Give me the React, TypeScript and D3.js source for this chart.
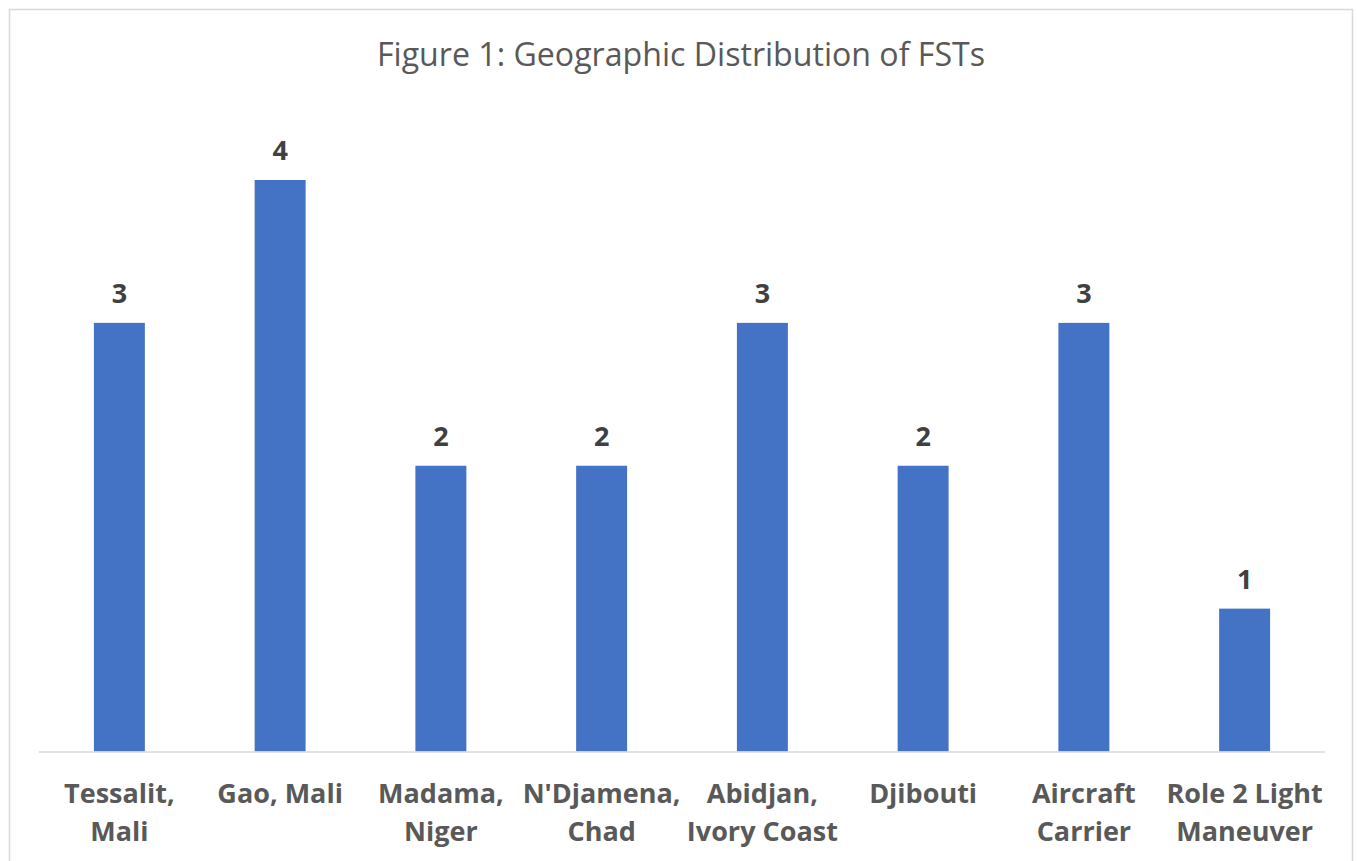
import React from "react";
import * as d3 from "d3";

const categories = [
  "Tessalit, Mali",
  "Gao, Mali",
  "Madama, Niger",
  "N'Djamena, Chad",
  "Abidjan, Ivory Coast",
  "Djibouti",
  "Aircraft Carrier",
  "Role 2 Light Maneuver",
];
const categoryLines = [
  ["Tessalit,", "Mali"],
  ["Gao, Mali"],
  ["Madama,", "Niger"],
  ["N'Djamena,", "Chad"],
  ["Abidjan,", "Ivory Coast"],
  ["Djibouti"],
  ["Aircraft", "Carrier"],
  ["Role 2 Light", "Maneuver"],
];
const values = [3, 4, 2, 2, 3, 2, 3, 1];
const title = "Figure 1: Geographic Distribution of FSTs";

const W = 1357;
const H = 861;
const FONT = "'Open Sans', 'Segoe UI', sans-serif";

export default function App() {
  const x = d3
    .scaleBand<string>()
    .domain(categories)
    .range([39, 1325])
    .paddingInner(0.683)
    .paddingOuter(0.3415);
  const y = d3.scaleLinear().domain([0, 4]).range([751.5, 180]);

  return (
    <svg
      width={W}
      height={H}
      style={{ position: "absolute", left: 0, top: 0, background: "#fff" }}
      fontFamily={FONT}
    >
      <rect x={0} y={0} width={W} height={H} fill="#fff" />
      <rect
        x={9.5}
        y={9.5}
        width={1343}
        height={880}
        fill="none"
        stroke="#d9d9d9"
        strokeWidth={1.5}
      />
      <text
        x={681}
        y={66}
        textAnchor="middle"
        fontSize={32}
        fill="#595959"
        textLength={608}
        lengthAdjust="spacingAndGlyphs"
      >
        {title}
      </text>
      {categories.map((c, i) => (
        <rect
          key={c}
          x={x(c)}
          y={y(values[i])}
          width={x.bandwidth()}
          height={y(0) - y(values[i])}
          fill="#4472C4"
        />
      ))}
      <line
        x1={39}
        x2={1325}
        y1={752}
        y2={752}
        stroke="#d9d9d9"
        strokeWidth={1.5}
      />
      {categories.map((c, i) => (
        <text
          key={"v" + c}
          x={(x(c) ?? 0) + x.bandwidth() / 2}
          y={y(values[i]) - 20}
          textAnchor="middle"
          fontSize={27}
          fontWeight={700}
          fill="#404040"
        >
          {values[i]}
        </text>
      ))}
      {categories.map((c, i) => (
        <text
          key={"c" + c}
          x={(x(c) ?? 0) + x.bandwidth() / 2}
          textAnchor="middle"
          fontSize={27}
          fontWeight={700}
          fill="#595959"
        >
          {categoryLines[i].map((l, j) => (
            <tspan key={j} x={(x(c) ?? 0) + x.bandwidth() / 2} y={803 + j * 38}>
              {l}
            </tspan>
          ))}
        </text>
      ))}
    </svg>
  );
}
